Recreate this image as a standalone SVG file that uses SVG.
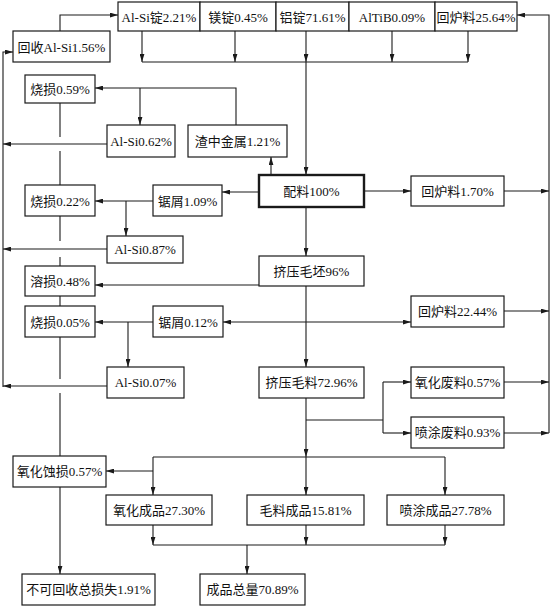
<svg xmlns="http://www.w3.org/2000/svg" width="552" height="606" viewBox="0 0 552 606">
<style>
.b{fill:#fff;stroke:#1a1a1a;stroke-width:1.2}
.bt{fill:#fff;stroke:#1a1a1a;stroke-width:2.4}
.t{font-family:"Liberation Serif","Noto Sans CJK SC",serif;font-size:13px;fill:#111;text-anchor:middle;dominant-baseline:central}
.c path{fill:none;stroke:#1a1a1a;stroke-width:1.1}
.a{marker-end:url(#ah)}
</style>
<defs>
<marker id="ah" viewBox="0 0 10 6" refX="10" refY="3" markerWidth="8" markerHeight="5" markerUnits="userSpaceOnUse" orient="auto">
<path d="M0,0 L10,3 L0,6 Z" fill="#1a1a1a"/>
</marker>
</defs>
<rect width="552" height="606" fill="#fff"/>
<g class="c" id="connectors">
<path class="a" d="M60,31 V15 H118"/>
<path class="a" d="M142,31 V62"/>
<path class="a" d="M235,31 V62"/>
<path class="a" d="M306,31 V62"/>
<path class="a" d="M392,31 V62"/>
<path class="a" d="M468,31 V62"/>
<path d="M142,62 H468"/>
<path class="a" d="M306,62 V175"/>
<path class="a" d="M549,433 V15 H517"/>
<path class="a" d="M504,191 H549"/>
<path class="a" d="M504,311 H549"/>
<path class="a" d="M504,382 H549"/>
<path class="a" d="M504,433 H549"/>
<path class="a" d="M3,387 V52 H13"/>
<path class="a" d="M107,144 H3"/>
<path class="a" d="M107,249 H3"/>
<path class="a" d="M107,386 H3"/>
<path class="a" d="M271,175 V157"/>
<path class="a" d="M236,125 V88 H95"/>
<path class="a" d="M140,88 V125"/>
<path class="a" d="M364,191 H411"/>
<path class="a" d="M259,192 H222"/>
<path class="a" d="M153,201 H95"/>
<path class="a" d="M126,201 V236"/>
<path class="a" d="M306,207 V256"/>
<path class="a" d="M259,285 H95"/>
<path class="a" d="M306,286 V367"/>
<path class="a" d="M306,322 H223"/>
<path class="a" d="M306,322 H411"/>
<path class="a" d="M153,322 H95"/>
<path class="a" d="M128,322 V367"/>
<path d="M60,103 V137 M60,151 V185 M60,216 V241 M60,257 V266 M60,296 V306 M60,337 V379 M60,393 V456"/>
<path class="a" d="M60,487 V574"/>
<path class="a" d="M306,398 V457"/>
<path class="a" d="M306,457 V495"/>
<path d="M153,457 H445"/>
<path class="a" d="M153,457 V495"/>
<path class="a" d="M445,457 V495"/>
<path class="a" d="M153,471 H106"/>
<path d="M306,420 H383 M383,382 V433"/>
<path class="a" d="M383,382 H411"/>
<path class="a" d="M383,433 H411"/>
<path class="a" d="M153,525 V545"/>
<path class="a" d="M306,525 V545"/>
<path class="a" d="M445,525 V545"/>
<path d="M153,545 H445"/>
<path class="a" d="M247,545 V574"/>
</g>
<g id="n_huishou"><rect class="b" x="13" y="31" width="97" height="31"/><text class="t" x="61.5" y="47">回收Al-Si1.56%</text></g>
<g id="n_alsi_ingot"><rect class="b" x="118" y="2" width="82" height="29"/><text class="t" x="159" y="17">Al-Si锭2.21%</text></g>
<g id="n_mg_ingot"><rect class="b" x="200" y="2" width="76" height="29"/><text class="t" x="238" y="17">镁锭0.45%</text></g>
<g id="n_al_ingot"><rect class="b" x="276" y="2" width="73" height="29"/><text class="t" x="312.5" y="17">铝锭71.61%</text></g>
<g id="n_altib"><rect class="b" x="349" y="2" width="86" height="29"/><text class="t" x="392" y="17">AlTiB0.09%</text></g>
<g id="n_return_top"><rect class="b" x="435" y="2" width="82" height="29"/><text class="t" x="476" y="17">回炉料25.64%</text></g>
<g id="n_burn059"><rect class="b" x="25" y="75" width="70" height="28"/><text class="t" x="60" y="89">烧损0.59%</text></g>
<g id="n_alsi062"><rect class="b" x="107" y="125" width="68" height="32"/><text class="t" x="141" y="141">Al-Si0.62%</text></g>
<g id="n_slag"><rect class="b" x="188" y="125" width="99" height="32"/><text class="t" x="237.5" y="141">渣中金属1.21%</text></g>
<g id="n_batch"><rect class="bt" x="259" y="175" width="105" height="32"/><text class="t" x="311.5" y="191">配料100%</text></g>
<g id="n_return170"><rect class="b" x="411" y="176" width="93" height="30"/><text class="t" x="457.5" y="191">回炉料1.70%</text></g>
<g id="n_saw109"><rect class="b" x="153" y="185" width="69" height="31"/><text class="t" x="187.5" y="201">锯屑1.09%</text></g>
<g id="n_burn022"><rect class="b" x="25" y="185" width="70" height="31"/><text class="t" x="60" y="201">烧损0.22%</text></g>
<g id="n_alsi087"><rect class="b" x="107" y="236" width="76" height="27"/><text class="t" x="145" y="249.5">Al-Si0.87%</text></g>
<g id="n_billet"><rect class="b" x="259" y="256" width="105" height="30"/><text class="t" x="311.5" y="271">挤压毛坯96%</text></g>
<g id="n_melt048"><rect class="b" x="25" y="266" width="70" height="30"/><text class="t" x="60" y="281">溶损0.48%</text></g>
<g id="n_burn005"><rect class="b" x="25" y="306" width="70" height="31"/><text class="t" x="60" y="322">烧损0.05%</text></g>
<g id="n_saw012"><rect class="b" x="153" y="306" width="70" height="31"/><text class="t" x="188" y="322">锯屑0.12%</text></g>
<g id="n_return2244"><rect class="b" x="411" y="296" width="93" height="31"/><text class="t" x="457.5" y="311.5">回炉料22.44%</text></g>
<g id="n_alsi007"><rect class="b" x="107" y="367" width="77" height="31"/><text class="t" x="145.5" y="382.5">Al-Si0.07%</text></g>
<g id="n_extruded"><rect class="b" x="259" y="367" width="105" height="31"/><text class="t" x="311.5" y="382.5">挤压毛料72.96%</text></g>
<g id="n_oxwaste"><rect class="b" x="411" y="367" width="93" height="31"/><text class="t" x="457.5" y="382.5">氧化废料0.57%</text></g>
<g id="n_spraywaste"><rect class="b" x="411" y="417" width="93" height="31"/><text class="t" x="457.5" y="432.5">喷涂废料0.93%</text></g>
<g id="n_oxloss"><rect class="b" x="13" y="456" width="93" height="31"/><text class="t" x="59.5" y="471.5">氧化蚀损0.57%</text></g>
<g id="n_oxprod"><rect class="b" x="106" y="495" width="106" height="30"/><text class="t" x="159" y="510">氧化成品27.30%</text></g>
<g id="n_millprod"><rect class="b" x="247" y="495" width="117" height="30"/><text class="t" x="305.5" y="510">毛料成品15.81%</text></g>
<g id="n_sprayprod"><rect class="b" x="387" y="495" width="117" height="30"/><text class="t" x="445.5" y="510">喷涂成品27.78%</text></g>
<g id="n_totalloss"><rect class="b" x="22" y="574" width="133" height="31"/><text class="t" x="88.5" y="589.5">不可回收总损失1.91%</text></g>
<g id="n_totalprod"><rect class="b" x="200" y="574" width="105" height="31"/><text class="t" x="252.5" y="589.5">成品总量70.89%</text></g>
</svg>
